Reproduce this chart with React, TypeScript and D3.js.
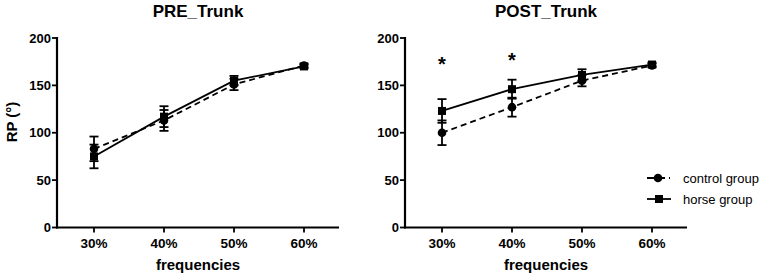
import React from "react";
import * as d3 from "d3";

const categories = ["30%", "40%", "50%", "60%"];
const yTicks = [0, 50, 100, 150, 200];

const preControl = [83, 113, 151, 171];
const preControlErr = [13, 11, 6, 2];
const preHorse = [75, 117, 155, 170];
const preHorseErr = [12.5, 11, 5, 2];

const postControl = [100, 127, 155, 171];
const postControlErr = [13, 10, 6, 2];
const postHorse = [123, 146, 161, 172];
const postHorseErr = [12.5, 10, 6, 2];

const postStarCats = ["30%", "40%"];
const postStarValues = [176.5, 180];

const legendLabels = ["control group", "horse group"];

const FONT = "'Liberation Sans', Arial, Helvetica, sans-serif";
const W = 765;
const H = 278;
const TOP = 38;
const BOTTOM = 227.5;

type PanelProps = {
  title: string;
  axisX: number;
  control: number[];
  controlErr: number[];
  horse: number[];
  horseErr: number[];
  showYLabel: boolean;
  stars?: { cat: string; v: number }[];
};

function Panel({ title, axisX, control, controlErr, horse, horseErr, showYLabel, stars }: PanelProps) {
  const x = d3.scalePoint<string>().domain(categories).range([axisX + 2, axisX + 282]).padding(0.5);
  const y = d3.scaleLinear().domain([0, 200]).range([BOTTOM, TOP]);
  const line = d3
    .line<number>()
    .x((_, i) => x(categories[i]) as number)
    .y((d) => y(d));
  const axisEnd = axisX + 282;
  const cx = (axisX + axisEnd) / 2;

  const errBars = (vals: number[], errs: number[], key: string) =>
    vals.map((v, i) => {
      const px = x(categories[i]) as number;
      const top = y(v + errs[i]);
      const bot = y(v - errs[i]);
      return (
        <g key={key + i} stroke="#000" strokeWidth={1.8}>
          <line x1={px} x2={px} y1={top} y2={bot} />
          <line x1={px - 4.5} x2={px + 4.5} y1={top} y2={top} />
          <line x1={px - 4.5} x2={px + 4.5} y1={bot} y2={bot} />
        </g>
      );
    });

  return (
    <g>
      <text x={cx} y={17} textAnchor="middle" fontFamily={FONT} fontWeight="bold" fontSize={17}>
        {title}
      </text>
      {/* axes */}
      <line x1={axisX} x2={axisX} y1={TOP - 1} y2={BOTTOM + 1} stroke="#000" strokeWidth={2.2} />
      <line x1={axisX - 1} x2={axisEnd} y1={BOTTOM} y2={BOTTOM} stroke="#000" strokeWidth={2.2} />
      {yTicks.map((t) => (
        <g key={"yt" + t}>
          <line x1={axisX - 5} x2={axisX} y1={y(t)} y2={y(t)} stroke="#000" strokeWidth={1.8} />
          <text
            x={axisX - 6}
            y={y(t)}
            dy="0.36em"
            textAnchor="end"
            fontFamily={FONT}
            fontWeight="bold"
            fontSize={13}
          >
            {t}
          </text>
        </g>
      ))}
      {categories.map((c) => (
        <g key={"xt" + c}>
          <line x1={x(c)} x2={x(c)} y1={BOTTOM} y2={BOTTOM + 5} stroke="#000" strokeWidth={1.8} />
          <text
            x={x(c)}
            y={248}
            textAnchor="middle"
            fontFamily={FONT}
            fontWeight="bold"
            fontSize={13.5}
          >
            {c}
          </text>
        </g>
      ))}
      <text x={cx} y={270} textAnchor="middle" fontFamily={FONT} fontWeight="bold" fontSize={15}>
        frequencies
      </text>
      {showYLabel && (
        <text
          transform={`translate(17,122) rotate(-90)`}
          textAnchor="middle"
          fontFamily={FONT}
          fontWeight="bold"
          fontSize={15}
        >
          RP (°)
        </text>
      )}
      {/* lines */}
      <path d={line(control) || ""} fill="none" stroke="#000" strokeWidth={1.8} strokeDasharray="6,4" />
      <path d={line(horse) || ""} fill="none" stroke="#000" strokeWidth={1.8} />
      {errBars(control, controlErr, "ce")}
      {errBars(horse, horseErr, "he")}
      {control.map((v, i) => (
        <circle key={"c" + i} cx={x(categories[i])} cy={y(v)} r={4.3} fill="#000" />
      ))}
      {horse.map((v, i) => (
        <rect
          key={"s" + i}
          x={(x(categories[i]) as number) - 4}
          y={y(v) - 4}
          width={8}
          height={8}
          fill="#000"
        />
      ))}
      {stars &&
        stars.map((s, i) => (
          <text
            key={"st" + i}
            x={x(s.cat)}
            y={y(s.v) + 10.5}
            textAnchor="middle"
            fontFamily={FONT}
            fontWeight="bold"
            fontSize={20}
          >
            *
          </text>
        ))}
    </g>
  );
}

export default function App() {
  const stars = postStarCats.map((c, i) => ({ cat: c, v: postStarValues[i] }));
  return (
    <svg
      width={W}
      height={H}
      style={{ position: "absolute", left: 0, top: 0, background: "#fff", display: "block" }}
    >
      <rect width={W} height={H} fill="#fff" />
      <Panel
        title="PRE_Trunk"
        axisX={57}
        control={preControl}
        controlErr={preControlErr}
        horse={preHorse}
        horseErr={preHorseErr}
        showYLabel
      />
      <Panel
        title="POST_Trunk"
        axisX={405}
        control={postControl}
        controlErr={postControlErr}
        horse={postHorse}
        horseErr={postHorseErr}
        showYLabel={false}
        stars={stars}
      />
      {/* legend */}
      <g>
        <line x1={647} x2={670} y1={178} y2={178} stroke="#000" strokeWidth={1.8} strokeDasharray="7,4" />
        <circle cx={658} cy={178} r={4.3} fill="#000" />
        <text x={683} y={178} dy="0.35em" fontFamily={FONT} fontSize={13}>
          {legendLabels[0]}
        </text>
        <line x1={647} x2={671} y1={199} y2={199} stroke="#000" strokeWidth={1.8} />
        <rect x={655} y={195} width={8} height={8} fill="#000" />
        <text x={683} y={199} dy="0.35em" fontFamily={FONT} fontSize={13}>
          {legendLabels[1]}
        </text>
      </g>
    </svg>
  );
}
